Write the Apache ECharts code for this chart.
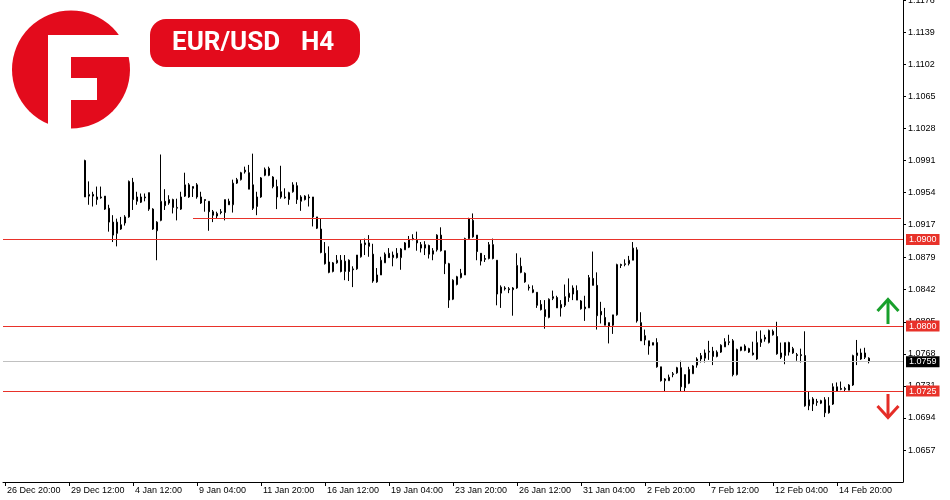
<!DOCTYPE html>
<html><head><meta charset="utf-8">
<script src="https://cdn.jsdelivr.net/npm/echarts@6/dist/echarts.min.js"></script>
<style>html,body{margin:0;padding:0;background:#fff}#c{width:950px;height:500px}</style>
</head><body><div id="c"></div>
<script>
// ---- data ----
const tickLabels = ["26 Dec 20:00","29 Dec 12:00","4 Jan 12:00","9 Jan 04:00","11 Jan 20:00","16 Jan 12:00","19 Jan 04:00","23 Jan 20:00","26 Jan 12:00","31 Jan 04:00","2 Feb 20:00","7 Feb 12:00","12 Feb 04:00","14 Feb 20:00"];
const labelEvery = 16;
const priceTicks = [1.0657,1.0694,1.0731,1.0768,1.0805,1.0842,1.0879,1.0917,1.0954,1.0991,1.1028,1.1065,1.1102,1.1139,1.1176];
const leadingEmptyBars = 20;
const trailingEmptyBars = 8;

const candleOpen = [
1.0991,1.0950,1.0952,1.0946,1.0949,1.0950,1.0936,1.0920,1.0907,1.0912,
1.0919,1.0926,1.0966,1.0944,1.0949,1.0949,1.0954,1.0935,1.0910,1.0922,
1.0944,1.0942,1.0946,1.0936,1.0935,1.0950,1.0963,1.0961,1.0963,1.0949,
1.0946,1.0944,1.0932,1.0927,1.0932,1.0931,1.0944,1.0940,1.0965,1.0969,
1.0978,1.0977,1.0963,1.0938,1.0949,1.0974,1.0982,1.0972,1.0961,1.0955,
1.0949,1.0946,1.0955,1.0962,1.0944,1.0950,1.0949,1.0949,1.0926,1.0912,
1.0884,1.0874,1.0863,1.0873,1.0876,1.0863,1.0876,1.0866,1.0866,1.0880,
1.0896,1.0892,1.0883,1.0851,1.0859,1.0873,1.0884,1.0879,1.0884,1.0879,
1.0888,1.0891,1.0901,1.0899,1.0894,1.0890,1.0893,1.0883,1.0888,1.0905,
1.0887,1.0872,1.0831,1.0848,1.0856,1.0859,1.0901,1.0922,1.0905,1.0884,
1.0878,1.0878,1.0894,1.0876,1.0838,1.0844,1.0843,1.0844,1.0844,1.0869,
1.0861,1.0844,1.0842,1.0839,1.0825,1.0819,1.0810,1.0832,1.0833,1.0821,
1.0824,1.0833,1.0837,1.0841,1.0829,1.0822,1.0821,1.0855,1.0847,1.0817,
1.0810,1.0804,1.0801,1.0813,1.0871,1.0871,1.0872,1.0876,1.0888,1.0804,
1.0784,1.0783,1.0778,1.0781,1.0753,1.0737,1.0737,1.0744,1.0746,1.0752,
1.0744,1.0734,1.0745,1.0755,1.0762,1.0763,1.0770,1.0771,1.0765,1.0770,
1.0776,1.0781,1.0783,1.0744,1.0772,1.0777,1.0774,1.0769,1.0762,1.0781,
1.0787,1.0781,1.0794,1.0788,1.0769,1.0766,1.0781,1.0769,1.0767,1.0767,
1.0766,1.0708,1.0716,1.0713,1.0711,1.0715,1.0708,1.0710,1.0725,1.0728,
1.0728,1.0726,1.0732,1.0766,1.0762,1.0769,1.0763];
const candleClose = [
1.0949,1.0952,1.0950,1.0949,1.0948,1.0935,1.0920,1.0905,1.0920,1.0917,
1.0926,1.0967,1.0946,1.0949,1.0943,1.0948,1.0935,1.0912,1.0920,1.0944,
1.0939,1.0946,1.0937,1.0937,1.0949,1.0963,1.0949,1.0959,1.0949,1.0942,
1.0945,1.0932,1.0928,1.0930,1.0931,1.0946,1.0940,1.0965,1.0969,1.0977,
1.0980,1.0958,1.0936,1.0949,1.0971,1.0981,1.0974,1.0961,1.0949,1.0949,
1.0948,1.0954,1.0963,1.0946,1.0949,1.0946,1.0948,1.0926,1.0913,1.0885,
1.0872,1.0862,1.0873,1.0876,1.0863,1.0875,1.0863,1.0865,1.0882,1.0895,
1.0894,1.0896,1.0852,1.0859,1.0876,1.0883,1.0879,1.0882,1.0879,1.0889,
1.0896,1.0900,1.0900,1.0896,1.0890,1.0894,1.0883,1.0887,1.0905,1.0887,
1.0872,1.0830,1.0853,1.0857,1.0861,1.0901,1.0924,1.0903,1.0886,1.0875,
1.0877,1.0894,1.0878,1.0837,1.0845,1.0843,1.0842,1.0842,1.0870,1.0862,
1.0851,1.0845,1.0839,1.0824,1.0819,1.0811,1.0831,1.0834,1.0821,1.0825,
1.0834,1.0838,1.0844,1.0830,1.0820,1.0820,1.0856,1.0847,1.0812,1.0813,
1.0801,1.0800,1.0813,1.0871,1.0870,1.0872,1.0876,1.0890,1.0806,1.0783,
1.0789,1.0777,1.0781,1.0753,1.0737,1.0739,1.0741,1.0745,1.0752,1.0730,
1.0729,1.0750,1.0754,1.0762,1.0766,1.0769,1.0771,1.0765,1.0770,1.0778,
1.0782,1.0782,1.0744,1.0773,1.0776,1.0772,1.0770,1.0767,1.0781,1.0785,
1.0785,1.0795,1.0790,1.0768,1.0764,1.0781,1.0770,1.0774,1.0766,1.0766,
1.0708,1.0715,1.0710,1.0712,1.0714,1.0700,1.0700,1.0730,1.0730,1.0727,
1.0727,1.0732,1.0766,1.0769,1.0769,1.0764,1.0759];
const candleLow = [
1.0949,1.0940,1.0938,1.0940,1.0947,1.0934,1.0909,1.0897,1.0892,1.0911,
1.0916,1.0925,1.0934,1.0940,1.0942,1.0944,1.0933,1.0911,1.0876,1.0921,
1.0934,1.0940,1.0930,1.0922,1.0934,1.0949,1.0948,1.0949,1.0947,1.0941,
1.0932,1.0910,1.0920,1.0924,1.0929,1.0922,1.0940,1.0931,1.0964,1.0968,
1.0976,1.0958,1.0934,1.0928,1.0948,1.0973,1.0973,1.0959,1.0935,1.0947,
1.0947,1.0940,1.0954,1.0941,1.0933,1.0945,1.0938,1.0915,1.0912,1.0884,
1.0871,1.0861,1.0862,1.0872,1.0862,1.0853,1.0852,1.0845,1.0865,1.0879,
1.0882,1.0880,1.0850,1.0850,1.0859,1.0873,1.0879,1.0869,1.0878,1.0865,
1.0888,1.0890,1.0899,1.0887,1.0885,1.0882,1.0878,1.0876,1.0886,1.0886,
1.0860,1.0821,1.0830,1.0847,1.0855,1.0859,1.0900,1.0902,1.0876,1.0870,
1.0874,1.0877,1.0877,1.0824,1.0821,1.0841,1.0838,1.0812,1.0843,1.0861,
1.0850,1.0841,1.0838,1.0821,1.0818,1.0797,1.0809,1.0830,1.0821,1.0811,
1.0822,1.0828,1.0830,1.0830,1.0819,1.0806,1.0821,1.0847,1.0796,1.0803,
1.0801,1.0780,1.0791,1.0812,1.0867,1.0869,1.0870,1.0876,1.0804,1.0783,
1.0778,1.0767,1.0778,1.0752,1.0736,1.0724,1.0737,1.0741,1.0745,1.0724,
1.0724,1.0733,1.0745,1.0752,1.0758,1.0758,1.0761,1.0755,1.0764,1.0769,
1.0776,1.0778,1.0742,1.0743,1.0771,1.0771,1.0769,1.0766,1.0761,1.0776,
1.0782,1.0780,1.0789,1.0767,1.0762,1.0756,1.0766,1.0768,1.0760,1.0758,
1.0707,1.0703,1.0702,1.0708,1.0710,1.0695,1.0699,1.0709,1.0725,1.0726,
1.0725,1.0726,1.0731,1.0755,1.0761,1.0762,1.0757];
const candleHigh = [
1.0992,1.0967,1.0955,1.0961,1.0961,1.0950,1.0940,1.0928,1.0924,1.0926,
1.0928,1.0968,1.0971,1.0955,1.0953,1.0953,1.0954,1.0936,1.0921,1.0998,
1.0958,1.0951,1.0947,1.0947,1.0955,1.0977,1.0965,1.0961,1.0965,1.0955,
1.0946,1.0944,1.0934,1.0932,1.0935,1.0946,1.0947,1.0969,1.0971,1.0978,
1.0984,1.0986,1.0999,1.0955,1.0972,1.0983,1.0984,1.0973,1.0969,1.0985,
1.0959,1.0955,1.0966,1.0966,1.0951,1.0951,1.0952,1.0949,1.0926,1.0924,
1.0897,1.0892,1.0874,1.0882,1.0882,1.0882,1.0877,1.0869,1.0882,1.0900,
1.0901,1.0905,1.0895,1.0867,1.0880,1.0885,1.0890,1.0886,1.0890,1.0890,
1.0897,1.0904,1.0906,1.0909,1.0897,1.0898,1.0894,1.0890,1.0906,1.0914,
1.0887,1.0873,1.0854,1.0858,1.0866,1.0902,1.0925,1.0930,1.0905,1.0884,
1.0882,1.0897,1.0901,1.0876,1.0847,1.0846,1.0845,1.0845,1.0884,1.0879,
1.0862,1.0848,1.0847,1.0839,1.0830,1.0830,1.0832,1.0841,1.0835,1.0830,
1.0848,1.0855,1.0847,1.0847,1.0830,1.0835,1.0859,1.0886,1.0862,1.0828,
1.0821,1.0804,1.0813,1.0872,1.0872,1.0877,1.0881,1.0897,1.0891,1.0816,
1.0796,1.0783,1.0781,1.0786,1.0753,1.0740,1.0744,1.0747,1.0753,1.0760,
1.0744,1.0753,1.0755,1.0764,1.0769,1.0773,1.0783,1.0776,1.0772,1.0779,
1.0786,1.0790,1.0785,1.0774,1.0776,1.0779,1.0775,1.0782,1.0794,1.0795,
1.0790,1.0796,1.0796,1.0805,1.0781,1.0781,1.0782,1.0776,1.0769,1.0774,
1.0794,1.0724,1.0718,1.0716,1.0715,1.0718,1.0718,1.0734,1.0735,1.0736,
1.0730,1.0733,1.0767,1.0784,1.0774,1.0775,1.0764];

const keyLevels = [1.0900, 1.0800, 1.0725];
const lastPrice = 1.0759;
const upperLevel = 1.0924;
const upperLevelStartBar = 47;

// ---- build ----
const RED = '#e30b1c';
const LINE_RED = '#e8322a';
const totalBars = leadingEmptyBars + candleOpen.length + trailingEmptyBars;
const categories = Array.from({length: totalBars}, (_, i) => String(i));
const candleData = categories.map((_, i) => {
  const k = i - leadingEmptyBars;
  if (k < 0 || k >= candleOpen.length) return '-';
  return [candleOpen[k], candleClose[k], candleLow[k], candleHigh[k]];
});
const showTick = (i) => i % labelEvery === 0 && (i / labelEvery) < tickLabels.length;
const FONT = 'Liberation Sans, Arial, sans-serif';

function boxLabel(v, bg) {
  return {
    show: true, position: 'end', distance: 3,
    formatter: v.toFixed(4),
    backgroundColor: bg, color: '#fff',
    fontSize: 9, lineHeight: 9, fontFamily: FONT,
    padding: [1, 3, 1, 3]
  };
}

const chart = echarts.init(document.getElementById('c'), null, {renderer: 'canvas'});
chart.setOption({
  animation: false,
  backgroundColor: '#fff',
  grid: {left: 3, right: 47, top: 0, bottom: 18, containLabel: false, outerBoundsMode: 'none'},
  xAxis: {
    type: 'category', data: categories, boundaryGap: true,
    axisLine: {show: true, lineStyle: {color: '#000', width: 1}},
    axisTick: {show: true, alignWithLabel: true, interval: showTick, length: 4, lineStyle: {color: '#000'}},
    axisLabel: {
      show: true, interval: showTick,
      formatter: (v, i) => tickLabels[Number(v) / labelEvery] || '',
      align: 'left', padding: [0, 0, 0, 2], margin: 4,
      fontSize: 9, color: '#000', fontFamily: FONT
    },
    splitLine: {show: false}
  },
  yAxis: {
    type: 'value', position: 'right', min: 1.06201, max: 1.11763,
    axisLine: {show: true, lineStyle: {color: '#000', width: 1}},
    axisTick: {show: true, length: 3, customValues: priceTicks, lineStyle: {color: '#000'}},
    axisLabel: {
      show: true, customValues: priceTicks, formatter: (v) => Number(v).toFixed(4),
      margin: 5, fontSize: 9, color: '#000', fontFamily: FONT
    },
    splitLine: {show: false}
  },
  series: [{
    type: 'candlestick',
    data: candleData,
    barWidth: 2,
    itemStyle: {color: '#fff', color0: '#000', borderColor: '#000', borderColor0: '#000', borderWidth: 1},
    emphasis: {disabled: true},
    markLine: {
      silent: true, animation: false, symbol: ['none', 'none'], precision: 4,
      data: [
        {yAxis: lastPrice, lineStyle: {color: '#c0c0c0', width: 1, type: 'solid'}, label: boxLabel(lastPrice, '#000')},
        ...keyLevels.map(v => ({yAxis: v, lineStyle: {color: LINE_RED, width: 1, type: 'solid'}, label: boxLabel(v, '#e8322a')})),
        [
          {coord: [String(upperLevelStartBar), upperLevel], lineStyle: {color: LINE_RED, width: 1, type: 'solid'}, label: {show: false}},
          {coord: [String(totalBars - 1), upperLevel]}
        ]
      ]
    }
  }],
  graphic: [
    {type: 'circle', shape: {cx: 71, cy: 69.5, r: 59}, style: {fill: RED}},
    {type: 'rect', shape: {x: 48, y: 35, width: 23, height: 100}, style: {fill: '#fff'}},
    {type: 'rect', shape: {x: 48, y: 35, width: 90, height: 22}, style: {fill: '#fff'}},
    {type: 'rect', shape: {x: 71, y: 78, width: 26, height: 22}, style: {fill: '#fff'}},
    {type: 'rect', shape: {x: 150, y: 19, width: 210, height: 48, r: 16}, style: {fill: RED}},
    {type: 'text', x: 172, y: 43, style: {text: 'EUR/USD', fill: '#fff', font: 'bold 26px Roboto, Arial, sans-serif', textAlign: 'left', textVerticalAlign: 'middle', align: 'left', verticalAlign: 'middle'}},
    {type: 'text', x: 301, y: 43, style: {text: 'H4', fill: '#fff', font: 'bold 26px Roboto, Arial, sans-serif', textAlign: 'left', textVerticalAlign: 'middle', align: 'left', verticalAlign: 'middle'}},
    {type: 'polyline', shape: {points: [[888, 324], [888, 300]]}, style: {stroke: '#18a02c', lineWidth: 3, fill: null}},
    {type: 'polyline', shape: {points: [[877.5, 311], [888, 299.5], [898.5, 311]]}, style: {stroke: '#18a02c', lineWidth: 3, fill: null}},
    {type: 'polyline', shape: {points: [[888, 394], [888, 417]]}, style: {stroke: '#e52d27', lineWidth: 3, fill: null}},
    {type: 'polyline', shape: {points: [[877.5, 406], [888, 417.5], [898.5, 406]]}, style: {stroke: '#e52d27', lineWidth: 3, fill: null}}
  ]
});
</script>
</body></html>
